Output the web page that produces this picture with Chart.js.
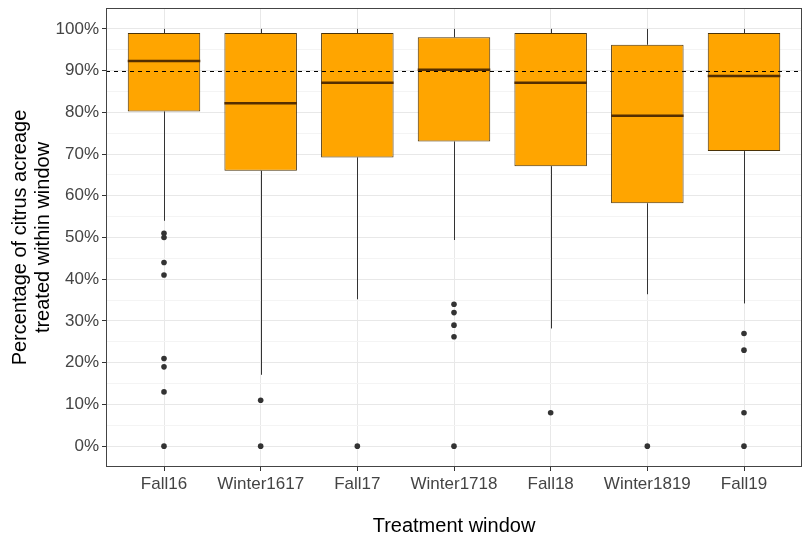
<!DOCTYPE html>
<html>
<head>
<meta charset="utf-8">
<script src="https://cdn.jsdelivr.net/npm/chart.js@4"></script>
<style>
  html, body { margin: 0; padding: 0; background: #fff; }
</style>
</head>
<body>
<canvas id="chart" width="806" height="540"></canvas>
<script>
// Treatment windows and box statistics (percent of acreage)
const windows = ['Fall16', 'Winter1617', 'Fall17', 'Winter1718', 'Fall18', 'Winter1819', 'Fall19'];
const q1 = [80.2, 66, 69.2, 73, 67.1, 58.2, 70.7];
const q3 = [99, 99, 99, 98, 99, 96.2, 99];
const medians = [92.3, 82.2, 87.1, 90.2, 87.1, 79.2, 88.7];
const whiskerLow = [54, 17.1, 35.2, 49.4, 28.2, 36.4, 34.2];
const whiskerHigh = [100, 100, 100, 100, 100, 100, 100];
const outliers = [
    [51, 50, 44, 41, 21, 19, 13, 0],
    [11, 0],
    [0],
    [34, 32, 29, 26.2, 0],
    [8],
    [0],
    [27, 23, 8, 0]
];
const yTicks = [0, 5, 10, 15, 20, 25, 30, 35, 40, 45, 50, 55, 60, 65, 70, 75, 80, 85, 90, 95, 100];
const target = 90;

Chart.defaults.font.family = "'Liberation Sans', Arial, sans-serif";

const boxData = windows.map((w, i) => ({ x: i + 1, y: [q1[i], q3[i]] }));
const pointData = [];
outliers.forEach((list, i) => list.forEach(v => pointData.push({ x: i + 1, y: v })));

// Whiskers, medians, target line and panel border
const boxplotExtras = {
    id: 'boxplotExtras',
    beforeDatasetsDraw(chart) {
        const { ctx, scales: { x, y } } = chart;
        ctx.save();
        ctx.strokeStyle = '#333';
        ctx.lineWidth = 1;
        windows.forEach((w, i) => {
            const px = Math.round(x.getPixelForValue(i + 1)) + 0.5;
            ctx.beginPath();
            ctx.moveTo(px, y.getPixelForValue(whiskerHigh[i]));
            ctx.lineTo(px, y.getPixelForValue(q3[i]));
            ctx.moveTo(px, y.getPixelForValue(q1[i]));
            ctx.lineTo(px, y.getPixelForValue(whiskerLow[i]));
            ctx.stroke();
        });
        ctx.restore();
    },
    afterDatasetsDraw(chart) {
        const { ctx, chartArea, scales: { x, y } } = chart;
        const bars = chart.getDatasetMeta(0).data;
        ctx.save();
        ctx.strokeStyle = '#552e00';
        ctx.lineWidth = 2.5;
        bars.forEach((bar, i) => {
            const py = y.getPixelForValue(medians[i]);
            ctx.beginPath();
            ctx.moveTo(bar.x - bar.width / 2, py);
            ctx.lineTo(bar.x + bar.width / 2, py);
            ctx.stroke();
        });

        const ty = Math.round(y.getPixelForValue(target)) + 0.5;
        ctx.strokeStyle = '#000';
        ctx.lineWidth = 1;
        ctx.setLineDash([4, 4]);
        ctx.beginPath();
        ctx.moveTo(chartArea.left, ty);
        ctx.lineTo(chartArea.right, ty);
        ctx.stroke();
        ctx.setLineDash([]);

        ctx.strokeStyle = '#444';
        ctx.strokeRect(chartArea.left + 0.5, chartArea.top + 0.5,
            chartArea.width - 1, chartArea.height - 1);
        ctx.restore();
    }
};

const noPadding = s => {
    s.paddingTop = 0;
    s.paddingBottom = 0;
    s.paddingLeft = 0;
    s.paddingRight = 0;
};

new Chart(document.getElementById('chart'), {
    type: 'bar',
    data: {
        datasets: [{
            data: boxData,
            backgroundColor: '#ffa500',
            borderColor: '#4a3208',
            borderWidth: 1,
            borderSkipped: false,
            barPercentage: 0.75,
            categoryPercentage: 1
        }, {
            type: 'scatter',
            data: pointData,
            backgroundColor: '#333',
            borderWidth: 0,
            pointRadius: 2.8
        }]
    },
    options: {
        responsive: false,
        animation: false,
        layout: { padding: { left: 0, top: 8, right: 2, bottom: 0 } },
        plugins: { legend: { display: false }, tooltip: { enabled: false } },
        scales: {
            x: {
                type: 'linear',
                min: 0.4,
                max: 7.6,
                offset: false,
                afterBuildTicks: s => { s.ticks = windows.map((w, i) => ({ value: i + 1 })); },
                afterFit: s => { s.height = 73; noPadding(s); },
                ticks: {
                    callback: v => windows[v - 1],
                    autoSkip: false,
                    maxRotation: 0,
                    color: '#444',
                    font: { size: 17 },
                    padding: 3
                },
                grid: { offset: false, color: '#e8e8e8', tickColor: '#333', tickLength: 4 },
                border: { display: false },
                title: {
                    display: true,
                    text: 'Treatment window',
                    color: '#000',
                    font: { size: 20, lineHeight: 1.2 },
                    padding: { top: 0, bottom: 2 }
                }
            },
            y: {
                min: -5,
                max: 105,
                afterBuildTicks: s => { s.ticks = yTicks.map(v => ({ value: v })); },
                afterFit: s => { s.width = 106; noPadding(s); },
                ticks: {
                    callback: v => v % 10 === 0 ? v + '%' : '',
                    autoSkip: false,
                    color: '#444',
                    font: { size: 17 },
                    padding: 3
                },
                grid: {
                    color: c => c.tick && c.tick.value % 10 === 0 ? '#e8e8e8' : '#f4f4f4',
                    tickColor: c => c.tick && c.tick.value % 10 === 0 ? '#333' : 'rgba(0,0,0,0)',
                    tickLength: 4
                },
                border: { display: false },
                title: {
                    display: true,
                    text: ['Percentage of citrus acreage', 'treated within window'],
                    color: '#000',
                    font: { size: 20, lineHeight: 1.15 },
                    padding: { top: 9, bottom: 0 }
                }
            }
        }
    },
    plugins: [boxplotExtras]
});
</script>
</body>
</html>
